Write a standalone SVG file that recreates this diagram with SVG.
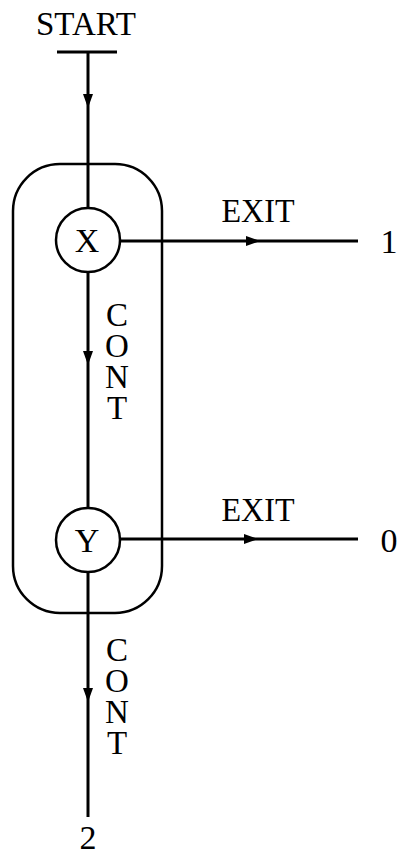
<svg xmlns="http://www.w3.org/2000/svg" width="403" height="857" viewBox="0 0 403 857">
<style>
text{font-family:"Liberation Serif","Times New Roman",serif;font-size:34px;fill:#000;text-anchor:middle}
.vt{writing-mode:vertical-rl;text-orientation:upright;text-anchor:start;letter-spacing:-5px;font-size:33px}
.ln{stroke:#000;stroke-width:3;fill:none}
.shape{stroke:#000;stroke-width:2.5;fill:none}
.node{stroke:#000;stroke-width:2.5;fill:#fff}
</style>
<defs>
<marker id="arr" markerUnits="userSpaceOnUse" markerWidth="15" markerHeight="12" refX="14" refY="5" orient="auto" viewBox="0 0 15 10">
<path d="M0,0 L14,5 L0,10 Z" fill="#000"/>
</marker>
</defs>
<g id="container">
<rect class="shape" x="13" y="164" width="149" height="449" rx="47" ry="47"/>
</g>
<g id="connectors">
<path class="ln" d="M57,52 L117,52"/>
<path class="ln" d="M88,52 L88,108 L88,208" marker-mid="url(#arr)"/>
<path class="ln" d="M88,272 L88,365 L88,508" marker-mid="url(#arr)"/>
<path class="ln" d="M88,572 L88,702 L88,817" marker-mid="url(#arr)"/>
<path class="ln" d="M120,241 L260,241 L358,241" marker-mid="url(#arr)"/>
<path class="ln" d="M120,539 L258,539 L358,539" marker-mid="url(#arr)"/>
</g>
<g id="start"><text x="86" y="35" textLength="100" lengthAdjust="spacingAndGlyphs">START</text></g>
<g id="nodeX">
<circle class="node" cx="88" cy="240" r="32"/>
<text x="87" y="252">X</text>
</g>
<g id="nodeY">
<circle class="node" cx="88" cy="540" r="32"/>
<text x="87" y="552">Y</text>
</g>
<g id="labels">
<text x="258" y="222" textLength="73" lengthAdjust="spacingAndGlyphs">EXIT</text>
<text x="389" y="253">1</text>
<text x="258" y="521" textLength="73" lengthAdjust="spacingAndGlyphs">EXIT</text>
<text x="389" y="552">0</text>
<text class="vt" x="117" y="297">CONT</text>
<text class="vt" x="117" y="632">CONT</text>
<text x="88" y="849">2</text>
</g>
</svg>
